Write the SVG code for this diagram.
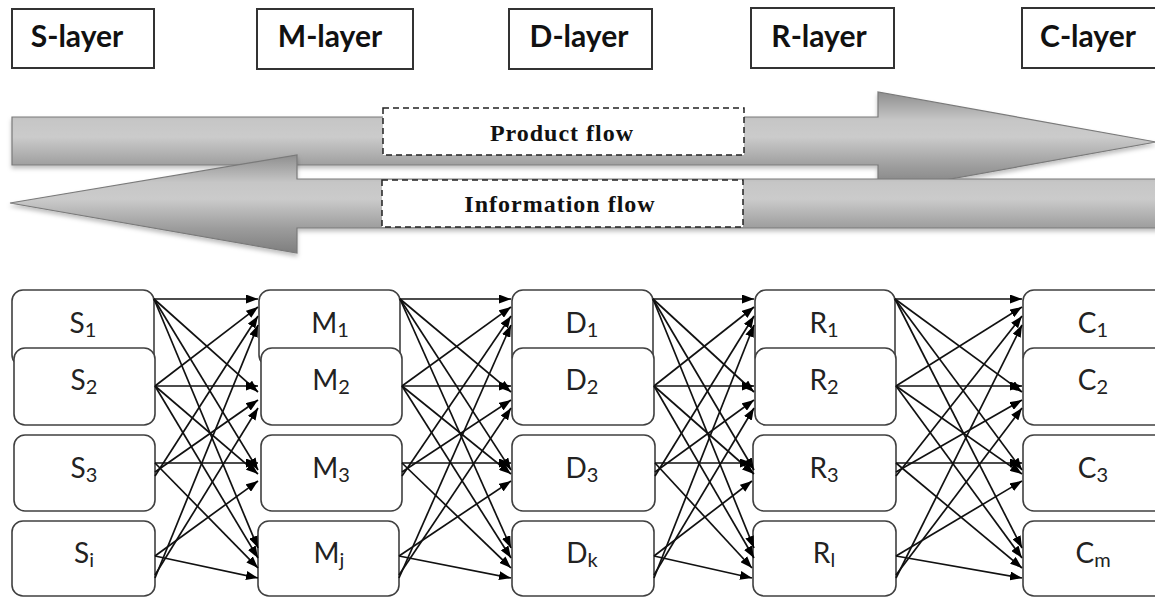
<svg xmlns="http://www.w3.org/2000/svg" width="1155" height="599" viewBox="0 0 1155 599">
<defs>
<linearGradient id="flowGrad" x1="0" y1="0" x2="0" y2="1">
<stop offset="0" stop-color="#8e8e8e"/>
<stop offset="0.28" stop-color="#c6c6c6"/>
<stop offset="0.45" stop-color="#cbcbcb"/>
<stop offset="0.75" stop-color="#9c9c9c"/>
<stop offset="1" stop-color="#7e7e7e"/>
</linearGradient>
<filter id="shadow" x="-5%" y="-20%" width="110%" height="150%">
<feDropShadow dx="0" dy="3" stdDeviation="2" flood-color="#000" flood-opacity="0.25"/>
</filter>
<marker id="ah" markerUnits="userSpaceOnUse" markerWidth="12" markerHeight="9" refX="12" refY="4.5" orient="auto">
<path d="M0,0 L12,4.5 L0,9 z" fill="#000"/>
</marker>
<style>
.layer rect{fill:#fff;stroke:#333;stroke-width:2}
.layer text{font-family:Lato,"Open Sans",sans-serif;font-weight:bold;font-size:30px;fill:#111;text-anchor:middle}
.flow{fill:url(#flowGrad);stroke:#7a7a7a;stroke-width:1.2;filter:url(#shadow)}
.flabel rect{fill:#fff;stroke:#222;stroke-width:1.5;stroke-dasharray:6,4}
.flabel text{font-family:"Liberation Serif","Times New Roman",serif;font-weight:bold;font-size:24px;letter-spacing:1px;fill:#111;text-anchor:middle}
.node rect{fill:#fff;stroke:#404040;stroke-width:1.6}
.node text{font-family:Lato,"Open Sans",sans-serif;font-size:28px;fill:#222;text-anchor:middle}
.node tspan{font-size:20px}
#connectors line{stroke:#111;stroke-width:1.7;marker-end:url(#ah)}
</style>
</defs>
<rect width="1155" height="599" fill="#fff"/>

<g id="layer-S" class="layer"><rect x="12" y="9" width="142" height="59"/><text x="77" y="47">S-layer</text></g>
<g id="layer-M" class="layer"><rect x="257" y="9" width="156" height="60"/><text x="330" y="47">M-layer</text></g>
<g id="layer-D" class="layer"><rect x="509" y="9" width="143" height="60"/><text x="579" y="47">D-layer</text></g>
<g id="layer-R" class="layer"><rect x="751" y="8" width="143" height="60"/><text x="819" y="47">R-layer</text></g>
<g id="layer-C" class="layer"><rect x="1022" y="8" width="145" height="60"/><text x="1088" y="47">C-layer</text></g>

<g id="product-flow">
<polygon class="flow" points="12,117 878,117 878,92 1156,142 878,192 878,165 12,165"/>
</g>
<g id="information-flow">
<polygon class="flow" points="1160,179 297,179 297,155 10,203 297,253 297,228 1160,228"/>
</g>
<g id="product-flow-label" class="flabel"><rect x="383" y="108" width="361" height="47"/><text x="562" y="141">Product flow</text></g>
<g id="information-flow-label" class="flabel"><rect x="382" y="180" width="361" height="47"/><text x="560" y="212">Information flow</text></g>

<g id="S1" class="node"><rect x="12" y="290" width="142" height="76" rx="11"/><text x="83" y="333">S<tspan dy="4">1</tspan></text></g>
<g id="S2" class="node"><rect x="14" y="348" width="141" height="77" rx="11"/><text x="84" y="390">S<tspan dy="4">2</tspan></text></g>
<g id="S3" class="node"><rect x="14" y="435" width="141" height="76" rx="11"/><text x="84" y="478">S<tspan dy="4">3</tspan></text></g>
<g id="Si" class="node"><rect x="12" y="521" width="143" height="75" rx="11"/><text x="84" y="563">S<tspan dy="4">i</tspan></text></g>

<g id="M1" class="node"><rect x="259" y="290" width="141" height="76" rx="11"/><text x="330" y="333">M<tspan dy="4">1</tspan></text></g>
<g id="M2" class="node"><rect x="261" y="348" width="141" height="77" rx="11"/><text x="331" y="390">M<tspan dy="4">2</tspan></text></g>
<g id="M3" class="node"><rect x="261" y="435" width="141" height="76" rx="11"/><text x="331" y="478">M<tspan dy="4">3</tspan></text></g>
<g id="Mj" class="node"><rect x="258" y="521" width="141" height="75" rx="11"/><text x="329" y="563">M<tspan dy="4">j</tspan></text></g>

<g id="D1" class="node"><rect x="512" y="290" width="141" height="76" rx="11"/><text x="582" y="333">D<tspan dy="4">1</tspan></text></g>
<g id="D2" class="node"><rect x="512" y="348" width="142" height="77" rx="11"/><text x="582" y="390">D<tspan dy="4">2</tspan></text></g>
<g id="D3" class="node"><rect x="512" y="435" width="143" height="76" rx="11"/><text x="582" y="478">D<tspan dy="4">3</tspan></text></g>
<g id="Dk" class="node"><rect x="512" y="521" width="142" height="75" rx="11"/><text x="582" y="563">D<tspan dy="4">k</tspan></text></g>

<g id="R1" class="node"><rect x="755" y="290" width="140" height="76" rx="11"/><text x="824" y="333">R<tspan dy="4">1</tspan></text></g>
<g id="R2" class="node"><rect x="755" y="348" width="141" height="77" rx="11"/><text x="824" y="390">R<tspan dy="4">2</tspan></text></g>
<g id="R3" class="node"><rect x="753" y="435" width="143" height="76" rx="11"/><text x="824" y="478">R<tspan dy="4">3</tspan></text></g>
<g id="Rl" class="node"><rect x="753" y="521" width="143" height="75" rx="11"/><text x="824" y="563">R<tspan dy="4">l</tspan></text></g>

<g id="C1" class="node"><rect x="1023" y="290" width="142" height="76" rx="11"/><text x="1093" y="333">C<tspan dy="4">1</tspan></text></g>
<g id="C2" class="node"><rect x="1023" y="348" width="142" height="77" rx="11"/><text x="1093" y="390">C<tspan dy="4">2</tspan></text></g>
<g id="C3" class="node"><rect x="1023" y="435" width="142" height="76" rx="11"/><text x="1093" y="478">C<tspan dy="4">3</tspan></text></g>
<g id="Cm" class="node"><rect x="1023" y="521" width="142" height="75" rx="11"/><text x="1093" y="563">C<tspan dy="4">m</tspan></text></g>

<g id="connectors">
<!-- S to M -->
<line x1="154" y1="299" x2="258" y2="299"/><line x1="154" y1="299" x2="258" y2="392"/><line x1="154" y1="299" x2="258" y2="470"/><line x1="154" y1="299" x2="258" y2="548"/>
<line x1="155" y1="386" x2="258" y2="307"/><line x1="155" y1="386" x2="258" y2="386"/><line x1="155" y1="386" x2="258" y2="474"/><line x1="155" y1="386" x2="258" y2="558"/>
<line x1="155" y1="476" x2="258" y2="316"/><line x1="155" y1="472" x2="258" y2="400"/><line x1="155" y1="463" x2="258" y2="463"/><line x1="155" y1="463" x2="258" y2="568"/>
<line x1="155" y1="578" x2="258" y2="325"/><line x1="155" y1="575" x2="258" y2="408"/><line x1="155" y1="556" x2="258" y2="481"/><line x1="155" y1="556" x2="258" y2="578"/>
<!-- M to D -->
<line x1="400" y1="299" x2="511" y2="299"/><line x1="400" y1="299" x2="511" y2="392"/><line x1="400" y1="299" x2="511" y2="470"/><line x1="400" y1="299" x2="511" y2="548"/>
<line x1="402" y1="386" x2="511" y2="307"/><line x1="402" y1="386" x2="511" y2="386"/><line x1="402" y1="386" x2="511" y2="474"/><line x1="402" y1="386" x2="511" y2="558"/>
<line x1="402" y1="476" x2="511" y2="316"/><line x1="402" y1="472" x2="511" y2="400"/><line x1="402" y1="463" x2="511" y2="463"/><line x1="402" y1="463" x2="511" y2="568"/>
<line x1="399" y1="578" x2="511" y2="325"/><line x1="399" y1="575" x2="511" y2="408"/><line x1="399" y1="556" x2="511" y2="481"/><line x1="399" y1="556" x2="511" y2="578"/>
<!-- D to R -->
<line x1="653" y1="299" x2="754" y2="299"/><line x1="653" y1="299" x2="754" y2="392"/><line x1="653" y1="299" x2="754" y2="470"/><line x1="653" y1="299" x2="754" y2="548"/>
<line x1="654" y1="386" x2="754" y2="307"/><line x1="654" y1="386" x2="754" y2="386"/><line x1="654" y1="386" x2="754" y2="474"/><line x1="654" y1="386" x2="754" y2="558"/>
<line x1="655" y1="476" x2="754" y2="316"/><line x1="655" y1="472" x2="754" y2="400"/><line x1="655" y1="463" x2="752" y2="463"/><line x1="655" y1="463" x2="752" y2="568"/>
<line x1="654" y1="578" x2="754" y2="325"/><line x1="654" y1="575" x2="754" y2="408"/><line x1="654" y1="556" x2="752" y2="481"/><line x1="654" y1="556" x2="752" y2="578"/>
<!-- R to C -->
<line x1="895" y1="299" x2="1022" y2="299"/><line x1="895" y1="299" x2="1022" y2="392"/><line x1="895" y1="299" x2="1022" y2="470"/><line x1="895" y1="299" x2="1022" y2="548"/>
<line x1="896" y1="386" x2="1022" y2="307"/><line x1="896" y1="386" x2="1022" y2="386"/><line x1="896" y1="386" x2="1022" y2="474"/><line x1="896" y1="386" x2="1022" y2="558"/>
<line x1="896" y1="476" x2="1022" y2="316"/><line x1="896" y1="472" x2="1022" y2="400"/><line x1="896" y1="463" x2="1022" y2="463"/><line x1="896" y1="463" x2="1022" y2="568"/>
<line x1="896" y1="578" x2="1022" y2="325"/><line x1="896" y1="575" x2="1022" y2="408"/><line x1="896" y1="556" x2="1022" y2="481"/><line x1="896" y1="556" x2="1022" y2="578"/>
</g>
</svg>
